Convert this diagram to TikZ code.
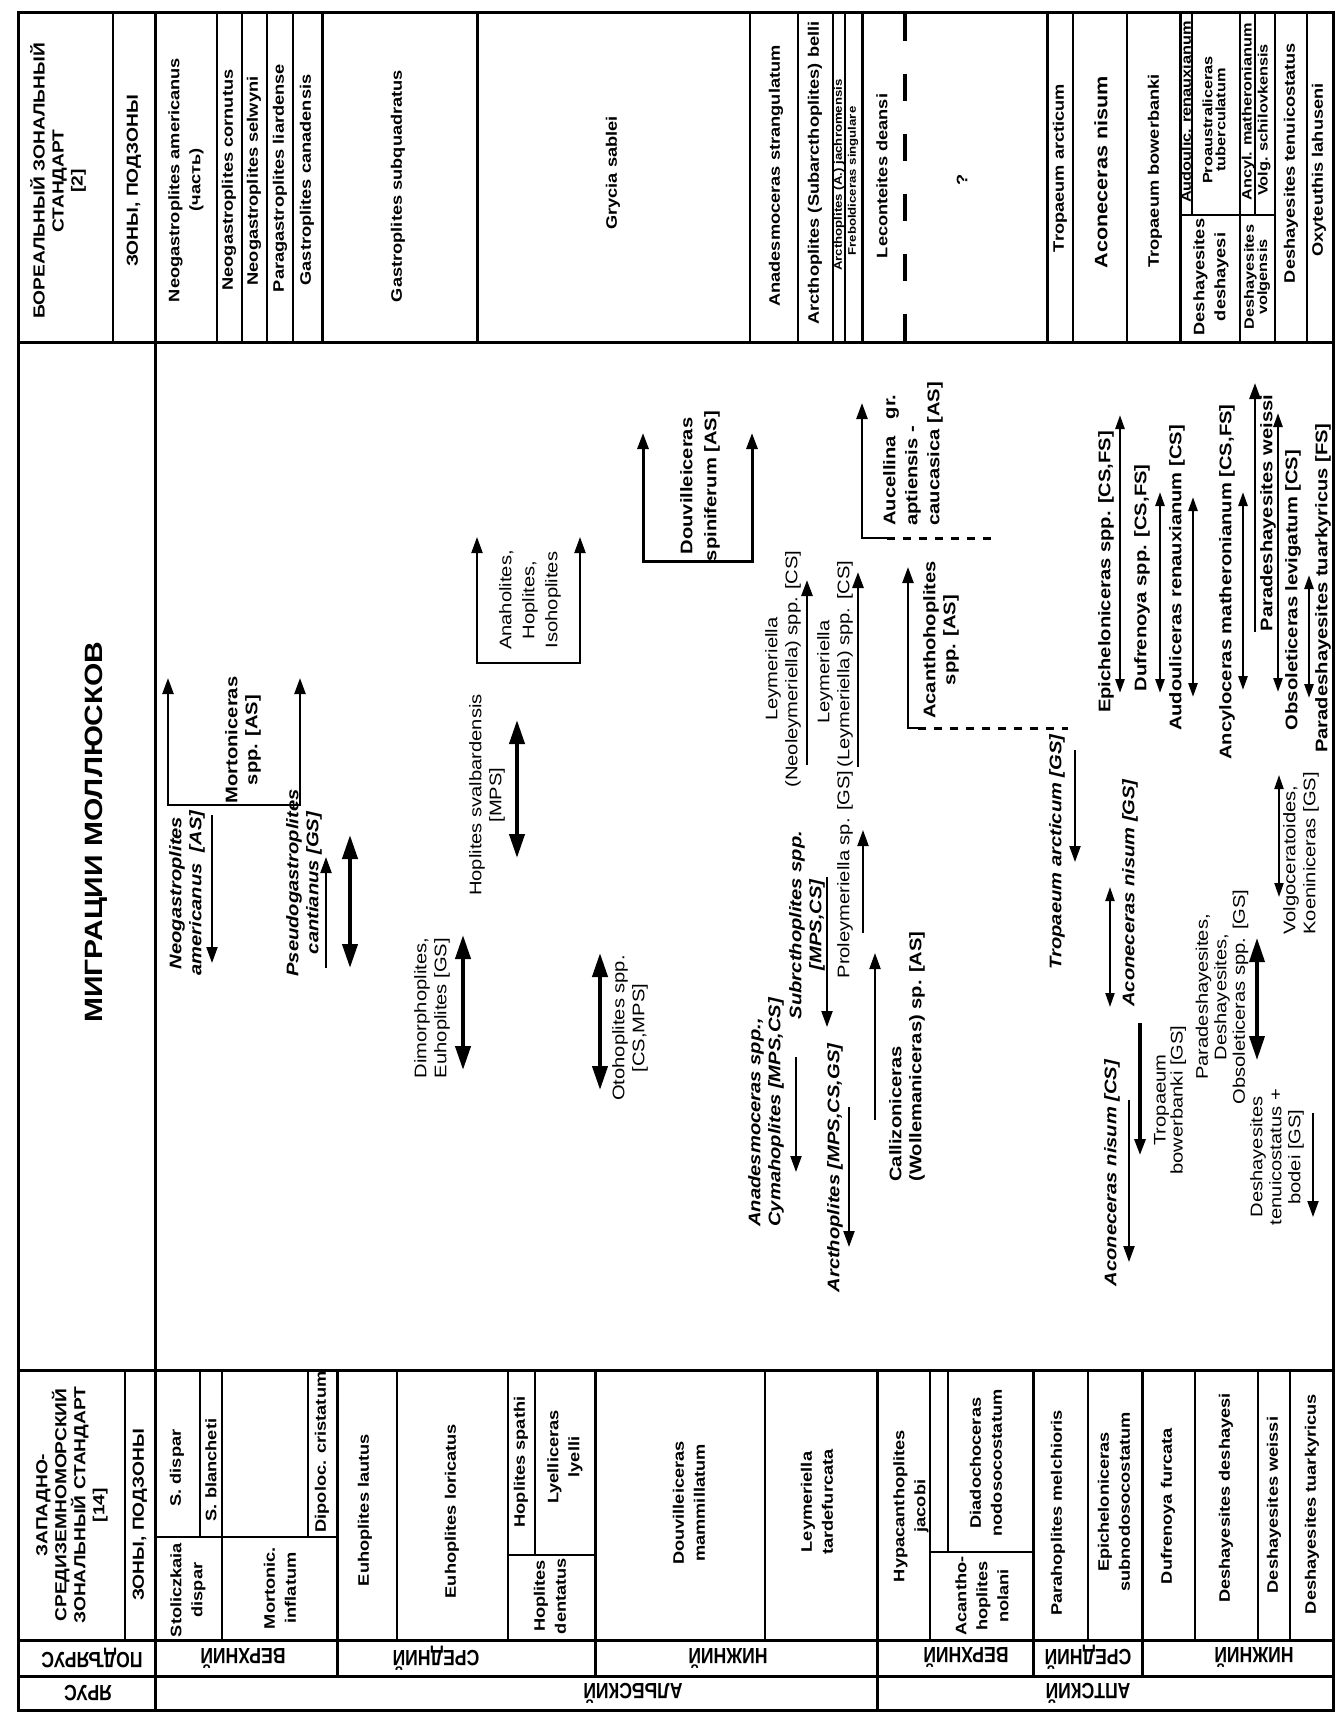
\documentclass[tikz,border=0pt]{standalone}
\usepackage{fontspec}
\setmainfont[FakeStretch=1.2]{Liberation Sans}
\newfontfamily\condfont[FakeStretch=0.8]{Liberation Sans}
\usetikzlibrary{arrows.meta}
\newcommand\zonefont{\fontsize{7.6}{10.5}\selectfont\bfseries}
\newcommand\smallzone{\fontsize{6.8}{6.6}\selectfont\bfseries}
\newcommand\tinyzone{\fontsize{5.5}{6}\selectfont\bfseries}
\newcommand\migb{\fontsize{8.4}{10}\selectfont\bfseries}
\newcommand\migbi{\fontsize{8.4}{10}\selectfont\bfseries\itshape}
\newcommand\migr{\fontsize{8.4}{10}\selectfont}
\newcommand\hdrfont{\fontsize{8}{9.5}\selectfont\bfseries}
\newcommand\updfont{\condfont\bfseries\fontsize{11}{13}\selectfont}
\begin{document}
\begin{tikzpicture}[x=0.5pt,y=-0.5pt,
  tl/.style={line width=1pt},
  tk/.style={line width=1.5pt},
  zt/.style={rotate=90, font=\zonefont, align=center, inner sep=0pt},
  lb/.style={rotate=90, font=\migb, align=center, inner sep=0pt},
  lbi/.style={rotate=90, font=\migbi, align=center, inner sep=0pt},
  lr/.style={rotate=90, font=\migr, align=center, inner sep=0pt},
  ud/.style={rotate=180, font=\updfont, inner sep=0pt},
  ar/.style={-{Triangle[length=8pt,width=5.5pt]}, line width=1pt},
  bar/.style={{Triangle[length=8pt,width=5.5pt]}-{Triangle[length=8pt,width=5.5pt]}, line width=1.2pt},
  dar/.style={{Triangle[length=7pt,width=4.5pt]}-{Triangle[length=7pt,width=4.5pt]}, line width=1.3pt},
  tdar/.style={{Triangle[length=12pt,width=7.5pt]}-{Triangle[length=12pt,width=7.5pt]}, line width=2pt},
  dsh/.style={line width=1.5pt, dash pattern=on 4pt off 4pt}
]
\fill[white] (0,0) rectangle (1338,1714);
\useasboundingbox (0,0) rectangle (1338,1714);

% ---------- grid ----------
\draw[tk] (18,12) rectangle (1333,1710);
\draw[tk] (18,342) -- (1333,342);
\draw[tk] (18,1370) -- (1333,1370);
\draw[tk] (18,1640) -- (1333,1640);
\draw[tk] (18,1676) -- (1333,1676);
\draw[tk] (155,12) -- (155,1710);
\draw[tl] (113,12) -- (113,342);
\draw[tl] (125,1370) -- (125,1640);
% boreal band
\foreach \x in {217,242,267,293,750,798,833,845,1073,1127,1240,1275,1307} \draw[tl] (\x,12) -- (\x,342);
\foreach \x in {322,477,862,1047,1180} \draw[tk] (\x,12) -- (\x,342);
\draw[tl] (1192,12) -- (1192,215);
\draw[tl] (1255,12) -- (1255,215);
\draw[tl] (1180,215) -- (1275,215);
\draw[line width=1.6pt, dash pattern=on 13.5pt off 16.5pt] (905,14) -- (905,342);
% west mediterranean band
\foreach \x in {337,595,1033,1142} \draw[tk] (\x,1370) -- (\x,1676);
\draw[tk] (877,1370) -- (877,1710);
\foreach \x in {222,397,508,765,930,1088,1195,1258,1290} \draw[tl] (\x,1370) -- (\x,1640);
\draw[tl] (200,1370) -- (200,1537);
\draw[tl] (308,1370) -- (308,1537);
\draw[tl] (155,1537) -- (337,1537);
\draw[tl] (535,1370) -- (535,1555);
\draw[tl] (508,1555) -- (595,1555);
\draw[tl] (948,1370) -- (948,1552);
\draw[tl] (930,1552) -- (1033,1552);

% ---------- boreal texts ----------
\node[zt, font=\hdrfont] (bh) at (58,181) {БОРЕАЛЬНЫЙ ЗОНАЛЬНЫЙ\\СТАНДАРТ\\{[2]}};
\node[zt, font=\hdrfont] (bz) at (134,181) {ЗОНЫ, ПОДЗОНЫ};
\node[zt] (b1) at (186,180) {Neogastroplites americanus\\(часть)};
\node[zt] (b2) at (229,180) {Neogastroplites cornutus};
\node[zt] (b3) at (254,181) {Neogastroplites selwyni};
\node[zt] (b4) at (280,178) {Paragastroplites liardense};
\node[zt] (b5) at (307,180) {Gastroplites canadensis};
\node[zt] (b6) at (398,186) {Gastroplites subquadratus};
\node[zt] (b7) at (613,173) {Grycia sablei};
\node[zt] (b8) at (776,176) {Anadesmoceras strangulatum};
\node[zt] (b9) at (815,173) {Arcthoplites (Subarcthoplites) belli};
\node[zt, font=\tinyzone] (b10) at (839,175) {Arcthoplites (A.) jachromensis};
\node[zt, font=\tinyzone] (b11) at (853,181) {Freboldiceras singulare};
\node[zt] (b12) at (882,176) {Leconteites deansi};
\node[zt] (b13) at (962,180) {?};
\node[zt] (b14) at (1060,168) {Tropaeum arcticum};
\node[zt, font=\fontsize{9}{10}\selectfont\bfseries] (b15) at (1101,172) {Aconeceras nisum};
\node[zt] (b16) at (1155,171) {Tropaeum bowerbanki};
\node[zt, font=\smallzone] (b17) at (1186,112) {Audoulic. renauxianum};
\node[zt, font=\smallzone] (b18) at (1214,120) {Proaustraliceras\\tuberculatum};
\node[zt] (b19) at (1211,277) {Deshayesites\\deshayesi};
\node[zt, font=\smallzone] (b20) at (1248,112) {Ancyl. matheronianum};
\node[zt, font=\smallzone] (b21) at (1264,120) {Volg. schilovkensis};
\node[zt, font=\smallzone] (b22) at (1257,277) {Deshayesites\\volgensis};
\node[zt] (b23) at (1291,163) {Deshayesites tenuicostatus};
\node[zt] (b24) at (1319,170) {Oxyteuthis lahuseni};

% ---------- title ----------
\node[rotate=90, font=\fontsize{12.5}{15}\selectfont\bfseries] (title) at (96,832) {МИГРАЦИИ МОЛЛЮСКОВ};

% ---------- west mediterranean texts ----------
\node[zt, font=\hdrfont] (wh) at (72,1505) {ЗАПАДНО-\\СРЕДИЗЕМНОМОРСКИЙ\\ЗОНАЛЬНЫЙ СТАНДАРТ\\{[14]}};
\node[zt, font=\hdrfont] (wz) at (140,1515) {ЗОНЫ, ПОДЗОНЫ};
\node[zt] (w1) at (177,1468) {S. dispar};
\node[zt] (w2) at (211,1470) {S. blancheti};
\node[zt] (w3) at (188,1590) {Stoliczkaia\\dispar};
\node[zt] (w4) at (280,1588) {Mortonic.\\inflatum};
\node[zt] (w5) at (322,1452) {Dipoloc. cristatum};
\node[zt] (w6) at (365,1510) {Euhoplites lautus};
\node[zt] (w7) at (452,1511) {Euhoplites loricatus};
\node[zt] (w8) at (521,1462) {Hoplites spathi};
\node[zt] (w9) at (565,1457) {Lyelliceras\\lyelli};
\node[zt] (w10) at (550,1596) {Hoplites\\dentatus};
\node[zt] (w11) at (689,1503) {Douvilleiceras\\mammillatum};
\node[zt] (w12) at (817,1502) {Leymeriella\\tardefurcata};
\node[zt] (w13) at (911,1506) {Hypacanthoplites\\jacobi};
\node[zt] (w14) at (986,1463) {Diadochoceras\\nodosocostatum};
\node[zt] (w15) at (982,1596) {Acantho-\\hoplites\\nolani};
\node[zt] (w16) at (1058,1513) {Parahoplites melchioris};
\node[zt] (w17) at (1114,1502) {Epicheloniceras\\subnodosocostatum};
\node[zt] (w18) at (1168,1506) {Dufrenoya furcata};
\node[zt] (w19) at (1226,1498) {Deshayesites deshayesi};
\node[zt] (w20) at (1274,1505) {Deshayesites weissi};
\node[zt] (w21) at (1312,1504) {Deshayesites tuarkyricus};

% ---------- stage / substage (upside down) ----------
\node[ud] (s1) at (92,1658) {ПОДЪЯРУС};
\node[ud] (s2) at (88,1693) {ЯРУС};
\node[ud] (s3) at (243,1658) {ВЕРХНИЙ};
\node[ud] (s4) at (436,1658) {СРЕДНИЙ};
\node[ud] (s5) at (728,1658) {НИЖНИЙ};
\node[ud] (s6) at (633,1693) {АЛЬБСКИЙ};
\node[ud] (s7) at (966,1657) {ВЕРХНИЙ};
\node[ud] (s8) at (1088,1657) {СРЕДНИЙ};
\node[ud] (s9) at (1254,1657) {НИЖНИЙ};
\node[ud] (s10) at (1088,1693) {АПТСКИЙ};

% ---------- migrations ----------
% Mortoniceras
\draw[bar] (168,678) -- (168,805) -- (300,805) -- (300,678);
\node[lb] (mort) at (243,740) {Mortoniceras\\spp. [AS]};
% Neogastroplites
\node[lbi] (neo) at (187,893) {Neogastroplites\\americanus\ \ [AS]};
\draw[ar] (212,815) -- (212,963);
% Pseudogastroplites
\node[lbi] (pseudo) at (304,883) {Pseudogastroplites\\cantianus [GS]};
\draw[ar] (326,968) -- (326,857);
\draw[tdar] (350,835) -- (350,968);
% Dimorphoplites
\node[lr] (dimo) at (432,1008) {Dimorphoplites,\\Euhoplites [GS]};
\draw[tdar] (463,935) -- (463,1070);
% Hoplites svalbardensis
\node[lr] (hsv) at (487,795) {Hoplites svalbardensis\\{[MPS]}};
\draw[tdar] (517,720) -- (517,858);
% Anaholites bracket
\draw[bar, line width=1pt] (477,537) -- (477,663) -- (580,663) -- (580,537);
\node[lr, font=\fontsize{8.4}{11.5}\selectfont] (anah) at (530,600) {Anaholites,\\Hoplites,\\Isohoplites};
% Douvilleiceras spiniferum
\draw[bar, line width=1.5pt] (643,433) -- (643,561) -- (752,561) -- (752,433);
\node[lb, font=\fontsize{8.4}{12}\selectfont\bfseries] (dspin) at (700,486) {Douvilleiceras\\spiniferum [AS]};
% Otohoplites
\node[lr] (oto) at (630,1028) {Otohoplites spp.\\{[CS,MPS]}};
\draw[tdar] (600,953) -- (600,1090);
% Leymeriella (Neoleymeriella)
\node[lr] (leyn) at (783,669) {Leymeriella\\(Neoleymeriella) spp. [CS]};
\draw[ar, line width=1.4pt] (807,765) -- (807,580);
% Leymeriella (Leymeriella)
\node[lr] (ley1) at (825,672) {Leymeriella};
\node[lr, anchor=west] (ley2) at (845,768) {(Leymeriella) spp. [CS]};
\draw[ar, line width=1.4pt] (858,767) -- (858,572);
% Proleymeriella
\node[lr, anchor=east] (proley) at (845,770) {Proleymeriella sp. [GS]};
\draw[ar] (863,933) -- (863,830);
% Subrcthoplites
\node[lbi] (subr) at (807,925) {Subrcthoplites spp.\\{[MPS,CS]}};
\draw[ar] (827,877) -- (827,1027);
% Anadesmoceras, Cymahoplites
\node[lbi, anchor=west, align=left] (anad) at (766,1227) {Anadesmoceras spp.,\\Cymahoplites [MPS,CS]};
\draw[ar] (796,1057) -- (796,1172);
% Arcthoplites
\node[lbi] (arct) at (835,1168) {Arcthoplites [MPS,CS,GS]};
\draw[ar] (849,1107) -- (849,1247);
% Callizoniceras
\node[lb, anchor=west, align=left] (calli) at (907,1182) {Callizoniceras\\(Wollemaniceras) sp. [AS]};
\draw[ar] (875,1120) -- (875,953);
% Acanthohoplites
\draw[ar, line width=1.2pt] (918,728) -- (908,728) -- (908,567);
\draw[dsh] (918,728) -- (1068,728);
\node[lb] (acan) at (941,640) {Acanthohoplites\\spp. [AS]};
% Aucellina
\draw[ar, line width=1.2pt] (887,538) -- (862,538) -- (862,403);
\draw[dsh] (887,538) -- (995,538);
\node[lb, anchor=west, align=left, font=\fontsize{8.4}{11}\selectfont\bfseries] (auc) at (913,526) {Aucellina\ \ \ gr.\\aptiensis -\\caucasica [AS]};
% Tropaeum arcticum
\node[lbi] (tarc) at (1057,852) {Tropaeum arcticum [GS]};
\draw[ar] (1075,750) -- (1075,862);
% Aconeceras nisum [GS]
\node[lbi] (acgs) at (1130,893) {Aconeceras nisum [GS]};
\draw[dar, line width=1pt] (1110,887) -- (1110,1007);
% Aconeceras nisum [CS]
\node[lbi] (accs) at (1112,1173) {Aconeceras nisum [CS]};
\draw[ar] (1129,1100) -- (1129,1262);
% Tropaeum bowerbanki
\node[lr, font=\fontsize{8.4}{8.5}\selectfont] (tbow) at (1170,1100) {Tropaeum\\bowerbanki [GS]};
\draw[ar, line width=1.6pt] (1140,1023) -- (1140,1155);
% Paradeshayesites, Deshayesites, Obsoleticeras
\node[lr, font=\fontsize{8.4}{9.2}\selectfont] (para) at (1222,997) {Paradeshayesites,\\Deshayesites,\\Obsoleticeras spp. [GS]};
\draw[tdar, line width=1.8pt] (1257,938) -- (1257,1060);
% Deshayesites tenuicostatus + bodei
\node[lr, font=\fontsize{8.4}{9.5}\selectfont] (dten) at (1277,1157) {Deshayesites\\tenuicostatus +\\bodei [GS]};
\draw[ar] (1313,1113) -- (1313,1217);
% Volgoceratoides
\node[lr, anchor=west, align=left] (volg) at (1301,935) {Volgoceratoides,\\Koeniniceras [GS]};
\draw[dar, line width=1pt] (1279,775) -- (1279,897);
% right group
\node[lb] (epic) at (1106,572) {Epicheloniceras spp. [CS,FS]};
\draw[dar] (1120,415) -- (1120,693);
\node[lb] (dufr) at (1142,578) {Dufrenoya spp. [CS,FS]};
\draw[dar] (1160,492) -- (1160,693);
\node[lb] (audo) at (1177,578) {Audouliceras renauxianum [CS]};
\draw[dar] (1193,497) -- (1193,697);
\node[lb] (ancy) at (1227,582) {Ancyloceras matheronianum [CS,FS]};
\draw[dar] (1243,492) -- (1243,690);
\node[lb] (pwei) at (1268,513) {Paradeshayesites weissi};
\draw[ar, line width=1.3pt] (1255,632) -- (1255,383);
\node[lb] (obsl) at (1293,590) {Obsoleticeras levigatum [CS]};
\draw[dar] (1278,413) -- (1278,692);
\node[lb] (ptua) at (1323,588) {Paradeshayesites tuarkyricus [FS]};
\draw[dar] (1309,575) -- (1309,698);
\end{tikzpicture}
\end{document}
